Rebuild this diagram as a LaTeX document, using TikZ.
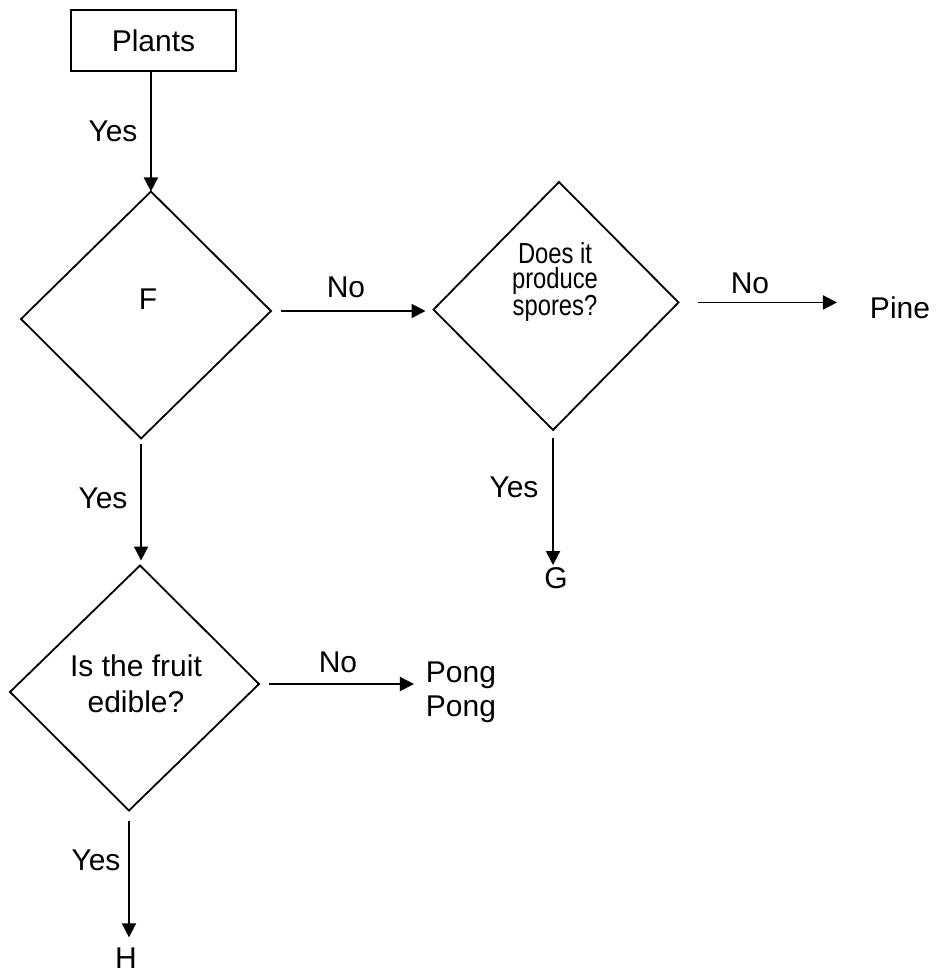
\documentclass[tikz,border=0pt]{standalone}
\usepackage{fontspec}
\setmainfont{Liberation Sans}
\newfontfamily\narrowfont[FakeStretch=0.82]{Liberation Sans}
\usetikzlibrary{shapes.geometric,arrows.meta}
\begin{document}
\begin{tikzpicture}[x=1pt,y=-1pt,
  every node/.style={font=\fontsize{30}{36}\selectfont},
  txt/.style={inner sep=0pt, outer sep=0pt, anchor=base},
  multi/.style={inner sep=0pt, outer sep=0pt, align=center, anchor=center},
  box/.style={draw, line width=1.8pt, rectangle, minimum width=165pt, minimum height=61pt, inner sep=0pt},
  dia/.style={draw, line width=1.8pt, diamond, inner sep=0pt, outer sep=0pt},
  arr/.style={line width=1.8pt, -{Triangle[length=14pt,width=14pt]}}
]
\useasboundingbox (0,0) rectangle (943,973);

% shapes
\node[box] (plants) at (153.5,40.5) {Plants};
\node[dia, minimum width=250pt, minimum height=247pt, cm={1,0.032,0.04,1,(0,0)}] (d1) at (146,315) {};
\node[dia, minimum width=245pt, minimum height=248pt, cm={1,0.029,0.024,1,(0,0)}] (d2) at (556,306) {};
\node[dia, minimum width=249pt, minimum height=245pt, cm={1,0.032,0.045,1,(0,0)}] (d3) at (134.5,688) {};

% texts inside diamonds
\node[txt] (ftext) at (148,309) {F};
\node[multi, font=\narrowfont\fontsize{29}{25}\selectfont] (d2text) at (555,282) {Does it\\produce\\spores?};
\node[multi, font=\fontsize{30}{36}\selectfont] (d3text) at (136,684) {Is the fruit\\edible?};

% terminal texts
\node[txt] (pine) at (900,318) {Pine};
\node[txt] (g) at (556,588) {G};
\node[multi, font=\fontsize{30}{34}\selectfont] (pong) at (461,692) {Pong\\Pong};
\node[txt] (h) at (126,968) {H};

% connectors
\draw[arr] (plants.south -| d1.north) -- (d1.north);
\draw[arr, shorten <=10pt, shorten >=8pt] (d1.east) -- (d1.east -| d2.west);
\draw[arr, shorten <=19pt, shorten >=33pt] (d2.east) -- (d2.east -| pine.west);
\draw[arr, shorten <=8pt, shorten >=2pt] (d2.south) -- (d2.south |- g.north);
\draw[arr, shorten <=5pt, shorten >=5pt] (d1.south) -- (d1.south |- d3.north);
\draw[arr, shorten <=10pt, shorten >=12pt] (d3.east) -- (d3.east -| pong.west);
\draw[arr, shorten <=10pt, shorten >=10pt] (d3.south) -- (d3.south |- h.north);

% connector labels
\node[txt] (yes1) at (113,142) {Yes};
\node[txt] (no1) at (346,297) {No};
\node[txt] (no2) at (750,293) {No};
\node[txt] (yes2) at (514,497) {Yes};
\node[txt] (yes3) at (103,508) {Yes};
\node[txt] (no3) at (338,672) {No};
\node[txt] (yes4) at (96,870) {Yes};
\end{tikzpicture}
\end{document}
